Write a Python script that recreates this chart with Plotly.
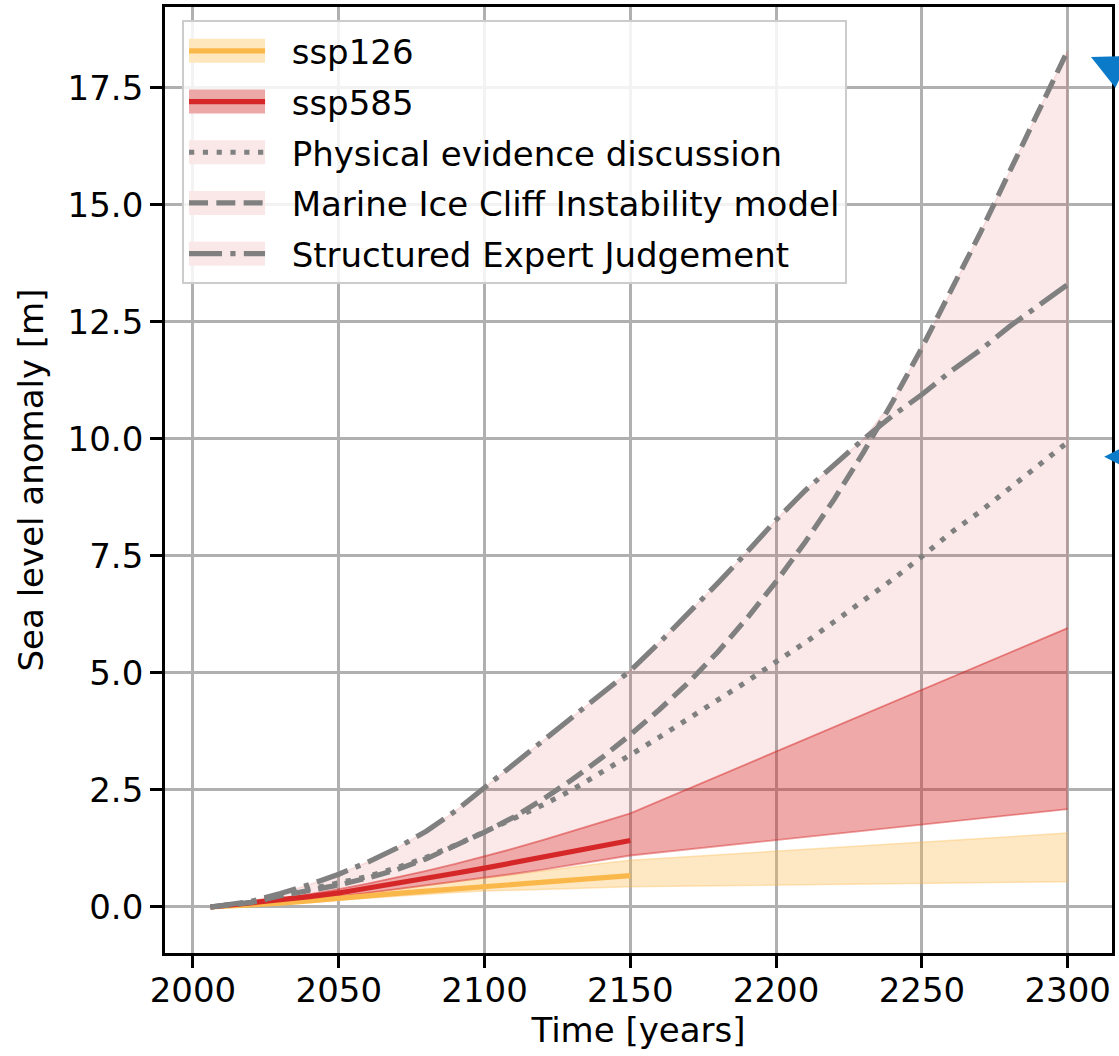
import plotly.graph_objects as go
import numpy as np

# ---------------- data ----------------
band_years = [2006, 2020, 2030, 2040, 2050, 2060, 2070, 2080, 2090, 2100, 2110, 2120, 2130, 2140, 2150, 2300]
median_years = [2006, 2020, 2030, 2040, 2050, 2060, 2070, 2080, 2090, 2100, 2110, 2120, 2130, 2140, 2150]

ssp126_low = [0, 0.03, 0.07, 0.11, 0.16, 0.2, 0.24, 0.28, 0.31, 0.34, 0.36, 0.38, 0.40, 0.42, 0.43, 0.54]
ssp126_high = [0, 0.05, 0.1, 0.16, 0.23, 0.3, 0.38, 0.46, 0.54, 0.62, 0.7, 0.78, 0.86, 0.93, 1.0, 1.58]
ssp126_median = [0, 0.04, 0.08, 0.13, 0.19, 0.24, 0.29, 0.34, 0.39, 0.43, 0.48, 0.53, 0.58, 0.63, 0.67]

ssp585_low = [0, 0.05, 0.1, 0.16, 0.22, 0.3, 0.38, 0.46, 0.54, 0.62, 0.71, 0.8, 0.9, 1.0, 1.1, 2.09]
ssp585_high = [0, 0.08, 0.17, 0.27, 0.38, 0.5, 0.63, 0.77, 0.92, 1.08, 1.25, 1.43, 1.62, 1.81, 2.0, 5.96]
ssp585_median = [0, 0.08, 0.15, 0.22, 0.3, 0.4, 0.5, 0.61, 0.72, 0.83, 0.95, 1.06, 1.18, 1.3, 1.42]

curve_years = [2006, 2020, 2030, 2040, 2050, 2060, 2070, 2080, 2090, 2100, 2110, 2120, 2130, 2140, 2150,
               2160, 2170, 2180, 2190, 2200, 2210, 2220, 2230, 2240, 2250, 2260, 2270, 2280, 2290, 2300]
physical = [0, 0.1, 0.25, 0.38, 0.5, 0.65, 0.84, 1.06, 1.32, 1.6, 1.88, 2.18, 2.5, 2.86, 3.25,
            3.63, 4.02, 4.42, 4.82, 5.24, 5.65, 6.1, 6.55, 7.0, 7.49, 8.0, 8.45, 8.95, 9.45, 9.93]
mici = [0, 0.1, 0.24, 0.36, 0.47, 0.62, 0.8, 1.03, 1.3, 1.6, 1.92, 2.3, 2.72, 3.18, 3.68,
        4.22, 4.8, 5.45, 6.17, 6.95, 7.8, 8.72, 9.72, 10.8, 11.95, 13.15, 14.4, 15.7, 17.0, 18.3]
sej = [0, 0.12, 0.29, 0.48, 0.7, 0.96, 1.26, 1.62, 2.05, 2.55, 3.05, 3.55, 4.05, 4.55, 5.05,
       5.65, 6.28, 6.92, 7.58, 8.27, 8.9, 9.45, 10.0, 10.5, 10.95, 11.45, 11.9, 12.4, 12.85, 13.3]

# arrowheads (blue, partly outside the figure on the right): tip positions
arrow_years = [2308.0, 2312.5]
arrow_values = [18.16, 9.62]
arrow_offsets = [(30, 13), (16, 0)]

x_ticks = [2000, 2050, 2100, 2150, 2200, 2250, 2300]
y_ticks = [0.0, 2.5, 5.0, 7.5, 10.0, 12.5, 15.0, 17.5]

legend_names = ["ssp126", "ssp585", "Physical evidence discussion",
                "Marine Ice Cliff Instability model", "Structured Expert Judgement"]

# ---------------- styles ----------------
ORANGE = "#fbb84a"
RED = "#d62728"
GREY = "#808080"
BLUE = "#0b7bc9"
FONT = "DejaVu Sans"
FS = 34
LW = 5.2
NB = "\u00a0\u00a0"

fig = go.Figure()

# pink envelope (high-end scenarios)
envelope = np.maximum(np.array(mici), np.array(sej))
fig.add_trace(go.Scatter(
    x=list(curve_years) + band_years[::-1],
    y=list(envelope) + ssp585_high[::-1],
    fill="toself", fillcolor="rgba(214,39,40,0.1)",
    line=dict(color="rgba(214,39,40,0.12)", width=1.5),
    mode="lines", showlegend=False, hoverinfo="skip"))

# ssp126 band
fig.add_trace(go.Scatter(x=band_years, y=ssp126_low, mode="lines",
                         line=dict(color="rgba(251,184,74,0.35)", width=1.5),
                         showlegend=False))
fig.add_trace(go.Scatter(x=band_years, y=ssp126_high, mode="lines", fill="tonexty",
                         fillcolor="rgba(251,184,74,0.33)",
                         line=dict(color="rgba(251,184,74,0.35)", width=1.5),
                         showlegend=False))
# ssp585 band
fig.add_trace(go.Scatter(x=band_years, y=ssp585_low, mode="lines",
                         line=dict(color="rgba(214,39,40,0.45)", width=1.8),
                         showlegend=False))
fig.add_trace(go.Scatter(x=band_years, y=ssp585_high, mode="lines", fill="tonexty",
                         fillcolor="rgba(214,39,40,0.4)",
                         line=dict(color="rgba(214,39,40,0.45)", width=1.8),
                         showlegend=False))

# legend patches (legend-only entries), stacked in three legends to form tall patches
patch_colors = ["#fee6bd", "#eca8a6", "#fae8e8", "#fae8e8", "#fae8e8"]
for leg_name in ["legend", "legend2", "legend3"]:
    for i, (name, col) in enumerate(zip(legend_names, patch_colors)):
        fig.add_trace(go.Scatter(x=[None], y=[None], mode="lines",
                                 name=(NB + name) if leg_name == "legend" else " ",
                                 legendgroup=f"g{i}",
                                 line=dict(color=col, width=24), legend=leg_name))

# medians
fig.add_trace(go.Scatter(x=median_years, y=ssp126_median, mode="lines", name=" ", legendgroup="g0",
                         line=dict(color=ORANGE, width=LW), legend="legend4"))
fig.add_trace(go.Scatter(x=median_years, y=ssp585_median, mode="lines", name=" ", legendgroup="g1",
                         line=dict(color=RED, width=LW), legend="legend4"))
# high-end curves
fig.add_trace(go.Scatter(x=curve_years, y=physical, mode="lines", name=" ", legendgroup="g2",
                         line=dict(color=GREY, width=LW, dash="5.2px,8.6px"), legend="legend4"))
fig.add_trace(go.Scatter(x=curve_years, y=mici, mode="lines", name=" ", legendgroup="g3",
                         line=dict(color=GREY, width=LW, dash="19px,8.3px"), legend="legend4"))
fig.add_trace(go.Scatter(x=curve_years, y=sej, mode="lines", name=" ", legendgroup="g4",
                         line=dict(color=GREY, width=LW, dash="33px,8.3px,5.2px,8.3px"), legend="legend4"))

# blue arrowheads at the right edge
for xa, ya, (ox, oy) in zip(arrow_years, arrow_values, arrow_offsets):
    fig.add_annotation(x=xa, y=ya, xref="x", yref="y", ax=ox, ay=oy, text="",
                       showarrow=True, arrowhead=2, arrowsize=3.5, arrowwidth=2,
                       arrowcolor=BLUE, standoff=0)

LEG_X, LEG_Y = 0.018, 0.986
DY = 7 / 946.0


def leg(y, bg, bc):
    return dict(x=LEG_X, y=y, xanchor="left", yanchor="top",
                font=dict(family=FONT, size=FS, color="black"),
                itemwidth=76, borderwidth=2, traceorder="grouped", tracegroupgap=3.5,
                bgcolor=bg, bordercolor=bc)


axis_common = dict(showline=True, linecolor="black", linewidth=2.8, mirror=True,
                   ticks="outside", ticklen=12, tickwidth=2.8, tickcolor="black",
                   showgrid=True, gridcolor="#b0b0b0", gridwidth=2.8, zeroline=False,
                   tickfont=dict(family=FONT, size=FS, color="black"))

fig.update_layout(
    width=1119, height=1056,
    margin=dict(l=165, r=4, t=7, b=103),
    paper_bgcolor="white", plot_bgcolor="white",
    font=dict(family=FONT, size=FS, color="black"),
    legend=leg(LEG_Y, "rgba(255,255,255,0.85)", "#cccccc"),
    legend2=leg(LEG_Y + DY, "rgba(0,0,0,0)", "rgba(0,0,0,0)"),
    legend3=leg(LEG_Y - DY, "rgba(0,0,0,0)", "rgba(0,0,0,0)"),
    legend4=leg(LEG_Y, "rgba(0,0,0,0)", "rgba(0,0,0,0)"),
    xaxis=dict(**axis_common, range=[1990.4, 2315.2], tickvals=x_ticks, ticklabelstandoff=-7,
               title=dict(text="Time [years]", font=dict(family=FONT, size=FS), standoff=8)),
    yaxis=dict(**axis_common, range=[-0.983, 19.23], tickvals=y_ticks, tickformat=".1f",
               title=dict(text="Sea level anomaly [m]", font=dict(family=FONT, size=FS), standoff=14)),
)

fig.write_html("out.html", config={"displayModeBar": False},
               post_script="document.body.style.margin='0px';")
